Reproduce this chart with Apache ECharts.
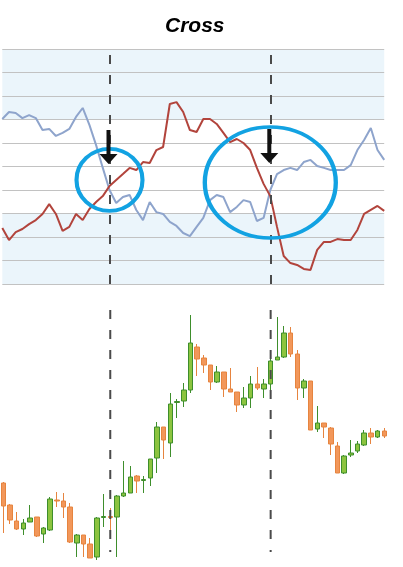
<!DOCTYPE html>
<html>
<head>
<meta charset="utf-8">
<script src="https://cdn.jsdelivr.net/npm/echarts@6/dist/echarts.min.js"></script>
<style>html,body{margin:0;padding:0;background:#fff;}#c{width:403px;height:567px;}</style>
</head>
<body>
<div id="c"></div>
<script>
const categories = ['1','2','3','4','5','6','7','8','9','10','11','12','13','14','15','16','17','18','19','20','21','22','23','24','25','26','27','28','29','30','31','32','33','34','35','36','37','38','39','40','41','42','43','44','45','46','47','48','49','50','51','52','53','54','55','56','57','58'];
const blueLine = [70.2,73.2,72.8,70.6,71.9,70.6,65.5,66.0,63.0,64.3,66.0,71.1,74.9,67.7,59.1,49.4,40.0,34.5,37.0,37.9,31.5,27.2,34.9,30.6,29.8,26.4,24.7,21.7,20.4,24.3,28.1,35.7,37.9,37.0,30.6,32.8,35.7,34.9,26.8,28.1,40.0,46.8,48.5,49.4,48.5,51.9,52.8,50.2,49.4,48.5,48.5,48.5,50.6,57.0,61.3,66.4,57.0,52.8];
const redLine = [23.8,18.7,22.1,23.4,25.5,27.2,29.8,34.0,29.8,22.6,24.3,29.8,27.2,31.9,34.9,37.4,41.7,44.3,46.8,49.4,48.5,51.9,51.5,57.0,58.3,76.6,77.4,73.2,65.5,64.7,70.2,70.2,68.1,64.3,60.4,61.7,60.0,57.0,49.4,42.6,37.4,24.3,11.9,8.9,8.1,6.4,6.0,14.5,17.9,17.9,19.1,18.7,18.7,23.0,29.8,31.5,33.2,31.1];
const openP = [13.20,12.32,11.68,11.36,11.64,11.84,11.16,11.32,12.52,12.48,12.24,10.80,11.12,10.76,10.24,11.82,11.86,11.84,12.68,12.80,13.48,13.30,13.40,14.20,15.44,14.80,16.42,16.48,16.92,18.64,18.20,17.92,17.24,17.64,16.96,16.84,16.32,16.60,17.16,16.96,17.16,18.12,18.24,19.20,18.36,17.00,17.28,15.36,15.60,15.40,14.68,13.60,14.32,14.48,14.72,15.20,15.04,15.28];
const closeP = [12.28,11.72,11.36,11.60,11.80,11.08,11.40,12.56,12.48,12.24,10.84,11.12,10.76,10.20,11.80,11.86,11.82,12.68,12.80,13.44,13.28,13.34,14.16,15.44,14.92,16.36,16.46,16.92,18.80,18.16,17.92,17.24,17.64,16.96,16.84,16.32,16.60,17.16,17.00,17.16,18.08,18.24,19.20,18.36,17.00,17.28,15.32,15.60,15.44,14.76,13.60,14.28,14.40,14.76,15.20,15.04,15.28,15.08];
const lowP = [11.20,11.56,11.32,11.12,11.64,11.04,10.80,11.28,12.24,11.80,10.80,10.24,10.24,10.20,10.12,11.44,11.20,10.24,12.64,12.80,12.80,12.80,13.08,13.60,14.16,14.24,15.80,16.24,16.80,17.48,17.60,16.92,17.20,16.64,16.84,16.04,16.20,16.20,16.92,16.60,16.80,18.12,18.20,18.24,16.52,16.60,15.32,15.24,15.00,14.32,13.60,13.56,14.24,14.40,14.68,14.76,15.00,15.00];
const highP = [13.24,12.36,12.04,11.76,12.32,11.84,11.44,12.64,12.84,12.80,12.40,11.16,11.12,11.00,11.84,12.76,12.20,12.72,14.08,13.88,13.52,13.48,14.16,15.64,15.44,16.80,16.56,17.20,19.92,18.76,18.32,17.92,17.88,17.64,17.80,16.84,17.04,17.48,17.84,17.36,18.28,19.84,19.48,19.44,18.52,17.36,17.28,16.28,15.60,15.44,14.84,14.32,14.92,14.88,15.32,15.40,15.32,15.40];
const crossIndex = [16, 40];
const crossValue = [44.3, 43.2];
const arrowValue = [58.3, 58.7];
const priceRange = [10.44, 20.12];

const candleData = openP.map((o, i) => [o, closeP[i], lowP[i], highP[i]]);
const bandBlue = '#ebf5fb';
const dashStyle = { type: [9, 11], color: '#4a4a4a', width: 2, opacity: 1 };
const arrowPath = 'path://M7,0L11,0L11,24L18,24L9,34L0,24L7,24Z';

const dashSeries = crossIndex.map(i => ({
  type: 'line', xAxisIndex: 1, yAxisIndex: 1, symbol: 'none', silent: true, z: 5,
  data: [[categories[i], priceRange[1]], [categories[i], priceRange[0]]],
  lineStyle: dashStyle
}));

const chart = echarts.init(document.getElementById('c'), null, { renderer: 'canvas' });
chart.setOption({
  animation: false,
  title: {
    text: 'Cross', left: 160, top: 11,
    textStyle: { fontFamily: 'Liberation Sans', fontStyle: 'italic', fontWeight: 'bold', fontSize: 21, color: '#000' }
  },
  grid: [
    { left: 2.3, right: 18.8, top: 49, height: 235 },
    { left: -1, right: 15.4, top: 310, height: 242 }
  ],
  xAxis: [
    { type: 'category', gridIndex: 0, data: categories, boundaryGap: false, show: true,
      axisLine: { show: false }, axisTick: { show: false }, axisLabel: { show: false }, splitLine: { show: false } },
    { type: 'category', gridIndex: 1, data: categories, boundaryGap: true, show: false }
  ],
  yAxis: [
    { type: 'value', gridIndex: 0, min: 0, max: 100, interval: 10,
      axisLine: { show: false }, axisTick: { show: false }, axisLabel: { show: false },
      splitLine: { show: true, lineStyle: { color: '#c2c2c2', width: 1 } },
      splitArea: { show: true, areaStyle: { color: [bandBlue, bandBlue, bandBlue, '#ffffff', '#ffffff', '#ffffff', '#ffffff', bandBlue, bandBlue, bandBlue] } } },
    { type: 'value', gridIndex: 1, min: priceRange[0], max: priceRange[1], show: false, splitLine: { show: false } }
  ],
  series: [
    { type: 'line', xAxisIndex: 0, yAxisIndex: 0, data: blueLine, symbol: 'none',
      lineStyle: { color: '#8ea4cc', width: 2 }, z: 3 },
    { type: 'line', xAxisIndex: 0, yAxisIndex: 0, data: redLine, symbol: 'none',
      lineStyle: { color: '#b2443c', width: 2 }, z: 3,
      markLine: { silent: true, symbol: ['none', 'none'], label: { show: false }, lineStyle: dashStyle,
        data: crossIndex.map(i => ({ xAxis: categories[i] })) },
      markPoint: { silent: true, label: { show: false },
        data: [
          { coord: [categories[crossIndex[0]], crossValue[0]], symbol: 'circle', symbolSize: [66, 62],
            itemStyle: { color: 'rgba(0,0,0,0)', borderColor: '#12a2e2', borderWidth: 4 } },
          { coord: [categories[crossIndex[1]], crossValue[1]], symbol: 'circle', symbolSize: [131, 111],
            itemStyle: { color: 'rgba(0,0,0,0)', borderColor: '#12a2e2', borderWidth: 4 } },
          { coord: [categories[crossIndex[0]], arrowValue[0]], symbol: arrowPath, symbolSize: [18, 34], symbolOffset: [-1, 0],
            itemStyle: { color: '#111' } },
          { coord: [categories[crossIndex[1]], arrowValue[1]], symbol: arrowPath, symbolSize: [18, 34], symbolOffset: [-1, 0],
            itemStyle: { color: '#111' } }
        ] } },
    { type: 'candlestick', xAxisIndex: 1, yAxisIndex: 1, data: candleData, barWidth: 5, z: 2, clip: false,
      itemStyle: { color: '#8cc43f', color0: '#f2975a', borderColor: '#3e8e2c', borderColor0: '#e6843f', borderWidth: 1 } }
  ].concat(dashSeries)
});
</script>
</body>
</html>
